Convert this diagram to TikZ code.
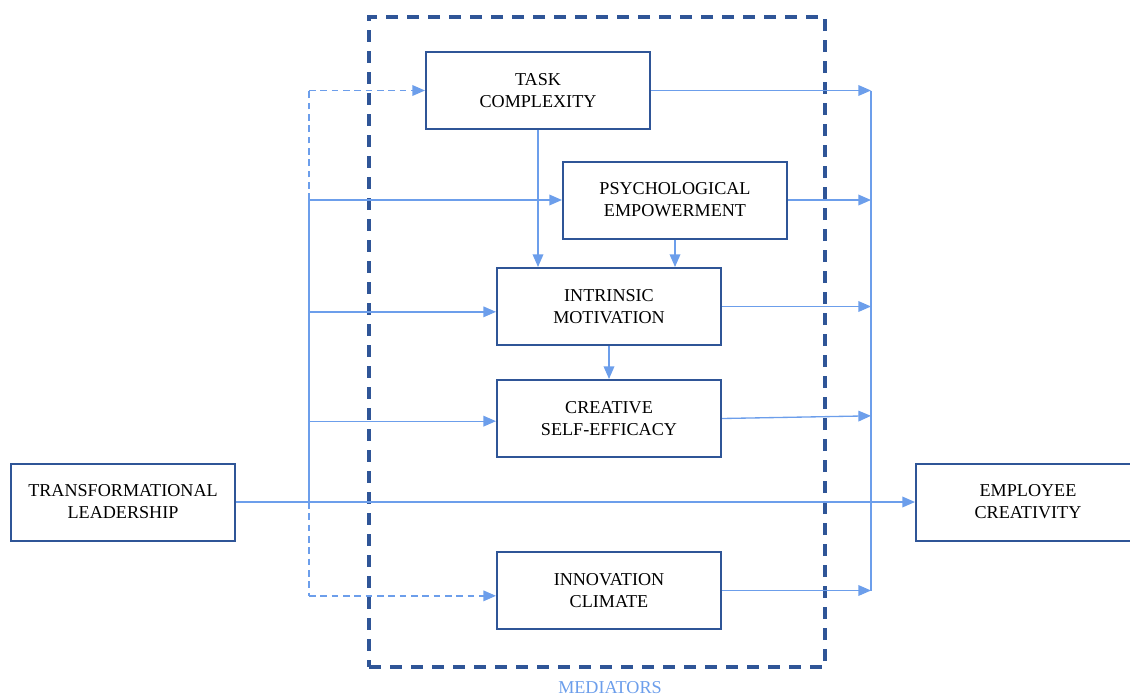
\documentclass[tikz,border=0pt]{standalone}
\usepackage{fontspec}
\setmainfont{Liberation Serif}
\usetikzlibrary{arrows.meta}

\definecolor{boxblue}{RGB}{47,85,151}
\definecolor{linkblue}{RGB}{108,158,235}

\begin{document}
\begin{tikzpicture}[x=0.75pt, y=-0.75pt,
  var/.style={draw=boxblue, line width=1.5pt, rectangle, minimum width=168pt, minimum height=57.75pt, align=center, font=\fontsize{13.6}{16.5}\selectfont},
  medbox/.style={draw=boxblue, line width=2.4pt, dash pattern=on 9pt off 6.75pt, minimum width=342pt, minimum height=487.5pt},
  link/.style={draw=linkblue, line width=1pt},
  tip/.style={-{Triangle[length=9.5pt, width=8pt]}},
  arr/.style={link, tip},
  dashlink/.style={link, dash pattern=on 5pt off 3.5pt}]
  \useasboundingbox (0,0) rectangle (1130,696);
  \node[medbox] (med) at (597,342) {};
  \node[text=linkblue, font=\fontsize{13.6}{16.5}\selectfont] (medlabel) at (610,688) {MEDIATORS};
  \node[var] (TC) at (538,90.5) {TASK\\COMPLEXITY};
  \node[var] (PE) at (675,200) {PSYCHOLOGICAL\\EMPOWERMENT};
  \node[var] (IM) at (609,306.5) {INTRINSIC\\MOTIVATION};
  \node[var] (CSE) at (609,418.5) {CREATIVE\\SELF-EFFICACY};
  \node[var] (IC) at (609,590.5) {INNOVATION\\CLIMATE};
  \node[var] (TL) at (123,502) {TRANSFORMATIONAL\\LEADERSHIP};
  \node[var] (EC) at (1028,502) {EMPLOYEE\\CREATIVITY};
  \coordinate (lb) at (309,502);
  \coordinate (rb) at (871,502);
  % left bus
  \draw[dashlink] (lb |- PE.west) -- (lb |- TC.west);
  \draw[dashlink, tip] (lb |- TC.west) -- (TC.west);
  \draw[link] (lb |- PE.west) -- (lb);
  \draw[dashlink] (lb) -- ([yshift=-4pt]lb |- IC.west);
  \draw[dashlink, tip] ([yshift=-4pt]lb |- IC.west) -- ([yshift=-4pt]IC.west);
  \draw[arr] (lb |- PE.west) -- (PE.west);
  \draw[arr] ([yshift=-4pt]lb |- IM.west) -- ([yshift=-4pt]IM.west);
  \draw[arr] ([yshift=-2pt]lb |- CSE.west) -- ([yshift=-2pt]CSE.west);
  \draw[arr] (TL.east) -- (EC.west);
  % between mediators
  \draw[arr] (TC.south) -- (TC.south |- IM.north);
  \draw[arr] (PE.south) -- (PE.south |- IM.north);
  \draw[arr] (IM.south) -- (CSE.north);
  % right bus
  \draw[link] (rb |- TC.east) -- (rb |- IC.east);
  \draw[arr] (TC.east) -- (rb |- TC.east);
  \draw[arr] (PE.east) -- (rb |- PE.east);
  \draw[arr] (IM.east) -- (rb |- IM.east);
  \draw[arr] (CSE.east) -- ([yshift=2pt]rb |- CSE.east);
  \draw[arr] (IC.east) -- (rb |- IC.east);
\end{tikzpicture}
\end{document}
